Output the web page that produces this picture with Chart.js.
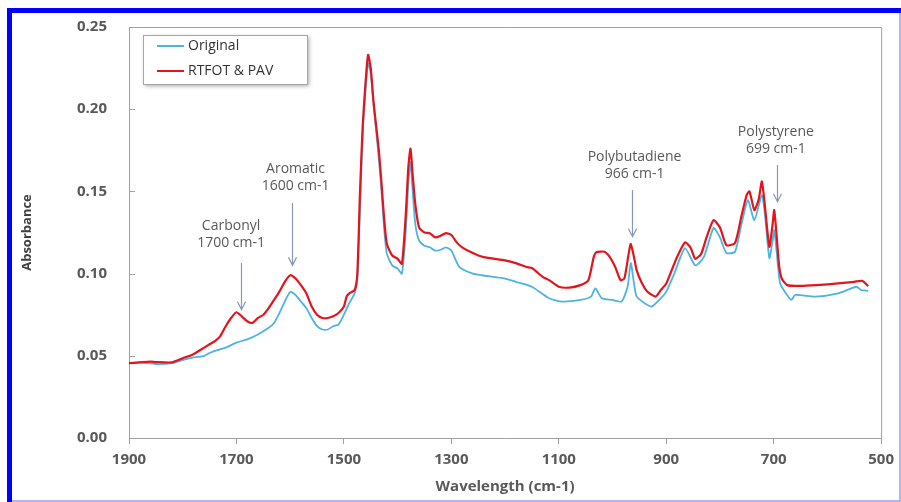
<!DOCTYPE html>
<html>
<head>
<meta charset="utf-8">
<script src="https://cdn.jsdelivr.net/npm/chart.js@4.4.1/dist/chart.umd.min.js"></script>
<style>
  html, body { margin: 0; padding: 0; background: #fff; }
  #wrap { width: 901px; height: 502px; }
</style>
</head>
<body>
<div id="wrap"><canvas id="ftirChart" width="901" height="502"></canvas></div>
<script>
// wavenumbers (cm-1) and absorbance
const origWave = [1900, 1880, 1850, 1820, 1800, 1780, 1760, 1750, 1740, 1720, 1700, 1680, 1660, 1640, 1630, 1620, 1610, 1600, 1590, 1580, 1570, 1560, 1550, 1540, 1530, 1520, 1510, 1500, 1490, 1480, 1475, 1470, 1465, 1460, 1455, 1450, 1445, 1440, 1435, 1430, 1425, 1420, 1410, 1400, 1392, 1385, 1380, 1376, 1372, 1367, 1360, 1350, 1340, 1330, 1320, 1310, 1300, 1285, 1260, 1243, 1200, 1180, 1150, 1118, 1094, 1060, 1040, 1032, 1020, 1000, 983, 972, 966, 960, 955, 940, 927, 910, 900, 885, 865, 846, 830, 812, 800, 788, 772, 760, 748, 736, 722, 716, 708, 702, 699, 695, 688, 675, 667, 660, 623, 580, 546, 537, 524];
const origAbs = [0.0455, 0.046, 0.045, 0.0455, 0.0474, 0.049, 0.050, 0.0517, 0.053, 0.055, 0.058, 0.060, 0.063, 0.067, 0.070, 0.076, 0.083, 0.0888, 0.087, 0.083, 0.079, 0.073, 0.068, 0.066, 0.066, 0.068, 0.069, 0.075, 0.082, 0.088, 0.097, 0.140, 0.185, 0.210, 0.228, 0.222, 0.203, 0.187, 0.170, 0.150, 0.127, 0.112, 0.105, 0.103, 0.100, 0.125, 0.155, 0.168, 0.150, 0.130, 0.120, 0.117, 0.116, 0.114, 0.1145, 0.116, 0.114, 0.104, 0.100, 0.099, 0.097, 0.095, 0.092, 0.085, 0.083, 0.084, 0.086, 0.091, 0.085, 0.084, 0.083, 0.092, 0.1064, 0.094, 0.086, 0.082, 0.080, 0.085, 0.089, 0.100, 0.1155, 0.105, 0.110, 0.1277, 0.122, 0.1125, 0.1133, 0.130, 0.1447, 0.1325, 0.1477, 0.135, 0.1094, 0.120, 0.1265, 0.115, 0.094, 0.087, 0.084, 0.087, 0.086, 0.088, 0.092, 0.090, 0.0895];

const agedWave = [1900, 1880, 1860, 1850, 1820, 1800, 1780, 1760, 1750, 1740, 1730, 1720, 1710, 1700, 1690, 1680, 1670, 1660, 1650, 1640, 1630, 1620, 1610, 1600, 1590, 1580, 1570, 1560, 1550, 1540, 1530, 1520, 1510, 1500, 1495, 1490, 1480, 1475, 1470, 1465, 1460, 1455, 1450, 1445, 1440, 1435, 1430, 1425, 1420, 1410, 1400, 1392, 1385, 1380, 1376, 1372, 1367, 1360, 1350, 1340, 1330, 1320, 1310, 1300, 1290, 1280, 1260, 1240, 1200, 1180, 1160, 1150, 1130, 1118, 1100, 1080, 1060, 1045, 1035, 1030, 1015, 1005, 995, 985, 978, 970, 966, 960, 955, 945, 935, 920, 910, 900, 890, 880, 865, 855, 846, 835, 825, 812, 800, 788, 772, 760, 750, 745, 736, 728, 722, 716, 708, 702, 699, 695, 690, 685, 675, 650, 620, 580, 550, 535, 524];
const agedAbs = [0.0455, 0.046, 0.0465, 0.0462, 0.046, 0.0485, 0.051, 0.055, 0.057, 0.059, 0.062, 0.068, 0.073, 0.0765, 0.074, 0.071, 0.070, 0.073, 0.075, 0.079, 0.084, 0.089, 0.095, 0.099, 0.097, 0.093, 0.088, 0.080, 0.075, 0.073, 0.073, 0.074, 0.076, 0.080, 0.086, 0.088, 0.090, 0.100, 0.150, 0.190, 0.215, 0.233, 0.225, 0.205, 0.190, 0.175, 0.155, 0.133, 0.118, 0.111, 0.109, 0.106, 0.135, 0.165, 0.176, 0.160, 0.142, 0.128, 0.125, 0.1245, 0.122, 0.123, 0.1246, 0.1235, 0.119, 0.116, 0.1125, 0.110, 0.108, 0.1064, 0.104, 0.1034, 0.098, 0.096, 0.092, 0.0915, 0.093, 0.096, 0.110, 0.113, 0.1133, 0.110, 0.104, 0.096, 0.097, 0.112, 0.118, 0.110, 0.102, 0.094, 0.089, 0.086, 0.090, 0.094, 0.102, 0.110, 0.119, 0.116, 0.109, 0.112, 0.122, 0.1325, 0.128, 0.1173, 0.1186, 0.135, 0.148, 0.150, 0.1386, 0.145, 0.156, 0.140, 0.1163, 0.130, 0.1386, 0.125, 0.105, 0.097, 0.093, 0.0925, 0.093, 0.094, 0.095, 0.0956, 0.0924];

const seriesNames = ['Original', 'RTFOT & PAV'];
const seriesColors = ['#4db3e0', '#e3141c'];

// band labels: text lines, label anchor and arrow (wavenumber, absorbance)
const bandLabels = [
    { lines: ['Carbonyl', '1700 cm-1'], at: [1710, 0.1238], from: [1692, 0.1064], to: [1692, 0.078] },
    { lines: ['Aromatic', '1600 cm-1'], at: [1590, 0.1583], from: [1597, 0.1429], to: [1597, 0.105] },
    { lines: ['Polybutadiene', '966 cm-1'], at: [959, 0.1655], from: [964, 0.1508], to: [964, 0.1224] },
    { lines: ['Polystyrene', '699 cm-1'], at: [696, 0.1812], from: [694, 0.166], to: [694, 0.1437] }
];

const FONT = '"Open Sans", "DejaVu Sans", sans-serif';
const toPoints = (xs, ys) => xs.map((x, i) => ({ x: x, y: ys[i] }));

// blue page frame, plot frame, inward y ticks, band labels, legend
const decorPlugin = {
    id: 'decor',
    beforeDraw(chart) {
        const ctx = chart.ctx;
        ctx.save();
        ctx.fillStyle = '#ffffff';
        ctx.fillRect(0, 0, chart.width, chart.height);
        ctx.fillStyle = '#0000ff';
        ctx.fillRect(7, 8, chart.width - 7, 5);
        ctx.fillRect(7, 8, 5, chart.height - 8);
        ctx.fillStyle = '#b4b4f4';
        ctx.fillRect(chart.width - 2, 13, 2, chart.height - 13);
        ctx.fillRect(12, chart.height - 2, chart.width - 12, 2);
        ctx.restore();
    },
    afterDraw(chart) {
        const ctx = chart.ctx;
        const area = chart.chartArea;
        const xs = chart.scales.x;
        const ys = chart.scales.y;
        ctx.save();

        // top and right edges of the plot frame
        ctx.strokeStyle = '#a0a0a0';
        ctx.lineWidth = 1;
        ctx.beginPath();
        ctx.moveTo(area.left, area.top + 0.5);
        ctx.lineTo(area.right + 0.5, area.top + 0.5);
        ctx.lineTo(area.right + 0.5, area.bottom);
        ctx.stroke();

        // y tick marks point inward
        ys.ticks.forEach(t => {
            const py = Math.round(ys.getPixelForValue(t.value)) + 0.5;
            ctx.beginPath();
            ctx.moveTo(area.left, py);
            ctx.lineTo(area.left + 6, py);
            ctx.stroke();
        });

        // band labels with arrows
        ctx.font = '14px ' + FONT;
        ctx.fillStyle = '#595959';
        ctx.textAlign = 'center';
        ctx.textBaseline = 'middle';
        bandLabels.forEach(b => {
            const cx = xs.getPixelForValue(b.at[0]);
            const cy = ys.getPixelForValue(b.at[1]);
            ctx.fillText(b.lines[0], cx, cy - 8.5);
            ctx.fillText(b.lines[1], cx, cy + 8.5);

            const ax = Math.round(xs.getPixelForValue(b.from[0])) + 0.5;
            const y0 = ys.getPixelForValue(b.from[1]);
            const y1 = ys.getPixelForValue(b.to[1]);
            ctx.strokeStyle = '#8797b4';
            ctx.lineWidth = 1.2;
            ctx.beginPath();
            ctx.moveTo(ax, y0);
            ctx.lineTo(ax, y1);
            ctx.moveTo(ax - 4, y1 - 8);
            ctx.lineTo(ax, y1);
            ctx.lineTo(ax + 4, y1 - 8);
            ctx.stroke();
        });

        // legend box
        ctx.shadowColor = 'rgba(0,0,0,0.35)';
        ctx.shadowBlur = 4;
        ctx.shadowOffsetX = 2;
        ctx.shadowOffsetY = 2;
        ctx.fillStyle = '#ffffff';
        ctx.fillRect(143, 35, 164, 49);
        ctx.shadowColor = 'transparent';
        ctx.strokeStyle = '#a6a6a6';
        ctx.lineWidth = 1;
        ctx.strokeRect(143.5, 35.5, 164, 49);

        ctx.font = '14px ' + FONT;
        ctx.textAlign = 'left';
        ctx.textBaseline = 'middle';
        seriesNames.forEach((name, i) => {
            const ly = 46 + i * 25;
            ctx.strokeStyle = seriesColors[i];
            ctx.lineWidth = 2;
            ctx.beginPath();
            ctx.moveTo(157, ly);
            ctx.lineTo(184, ly);
            ctx.stroke();
            ctx.fillStyle = '#333333';
            ctx.fillText(name, 188, ly);
        });
        ctx.restore();
    }
};

const setupChart = () => {
    const canvas = document.getElementById('ftirChart').getContext('2d');
    return new Chart(canvas, {
        type: 'line',
        data: {
            datasets: [
                {
                    label: seriesNames[0],
                    data: toPoints(origWave, origAbs),
                    borderColor: seriesColors[0],
                    borderWidth: 1.8,
                    pointRadius: 0,
                    tension: 0.2,
                    order: 1
                },
                {
                    label: seriesNames[1],
                    data: toPoints(agedWave, agedAbs),
                    borderColor: seriesColors[1],
                    borderWidth: 2.2,
                    pointRadius: 0,
                    tension: 0.2,
                    order: 0
                }
            ]
        },
        options: {
            responsive: false,
            animation: false,
            devicePixelRatio: 1,
            layout: { padding: { left: 12, top: 27, right: 18, bottom: 0 } },
            plugins: { legend: { display: false }, tooltip: { enabled: false } },
            scales: {
                x: {
                    type: 'linear',
                    reverse: true,
                    min: 500,
                    max: 1900,
                    afterFit: (s) => { s.height = 64; },
                    ticks: {
                        stepSize: 200,
                        padding: 7,
                        maxRotation: 0,
                        color: '#595959',
                        font: { family: FONT, size: 15, weight: 'bold' },
                        callback: (v) => String(v)
                    },
                    grid: { drawOnChartArea: false, tickLength: 6, color: '#a0a0a0' },
                    border: { color: '#a0a0a0' },
                    title: {
                        display: true,
                        text: 'Wavelength (cm-1)',
                        color: '#595959',
                        padding: 6,
                        font: { family: FONT, size: 15, weight: 'bold' }
                    }
                },
                y: {
                    min: 0,
                    max: 0.25,
                    afterFit: (s) => { s.width = 117; },
                    ticks: {
                        stepSize: 0.05,
                        padding: 14,
                        color: '#595959',
                        font: { family: FONT, size: 15, weight: 'bold' },
                        callback: (v) => v.toFixed(2)
                    },
                    grid: { display: false },
                    border: { color: '#a0a0a0' },
                    title: {
                        display: true,
                        text: 'Absorbance',
                        color: '#404040',
                        padding: 7,
                        font: { family: FONT, size: 13, weight: 'bold' }
                    }
                }
            }
        },
        plugins: [decorPlugin]
    });
};

setupChart();
</script>
</body>
</html>
